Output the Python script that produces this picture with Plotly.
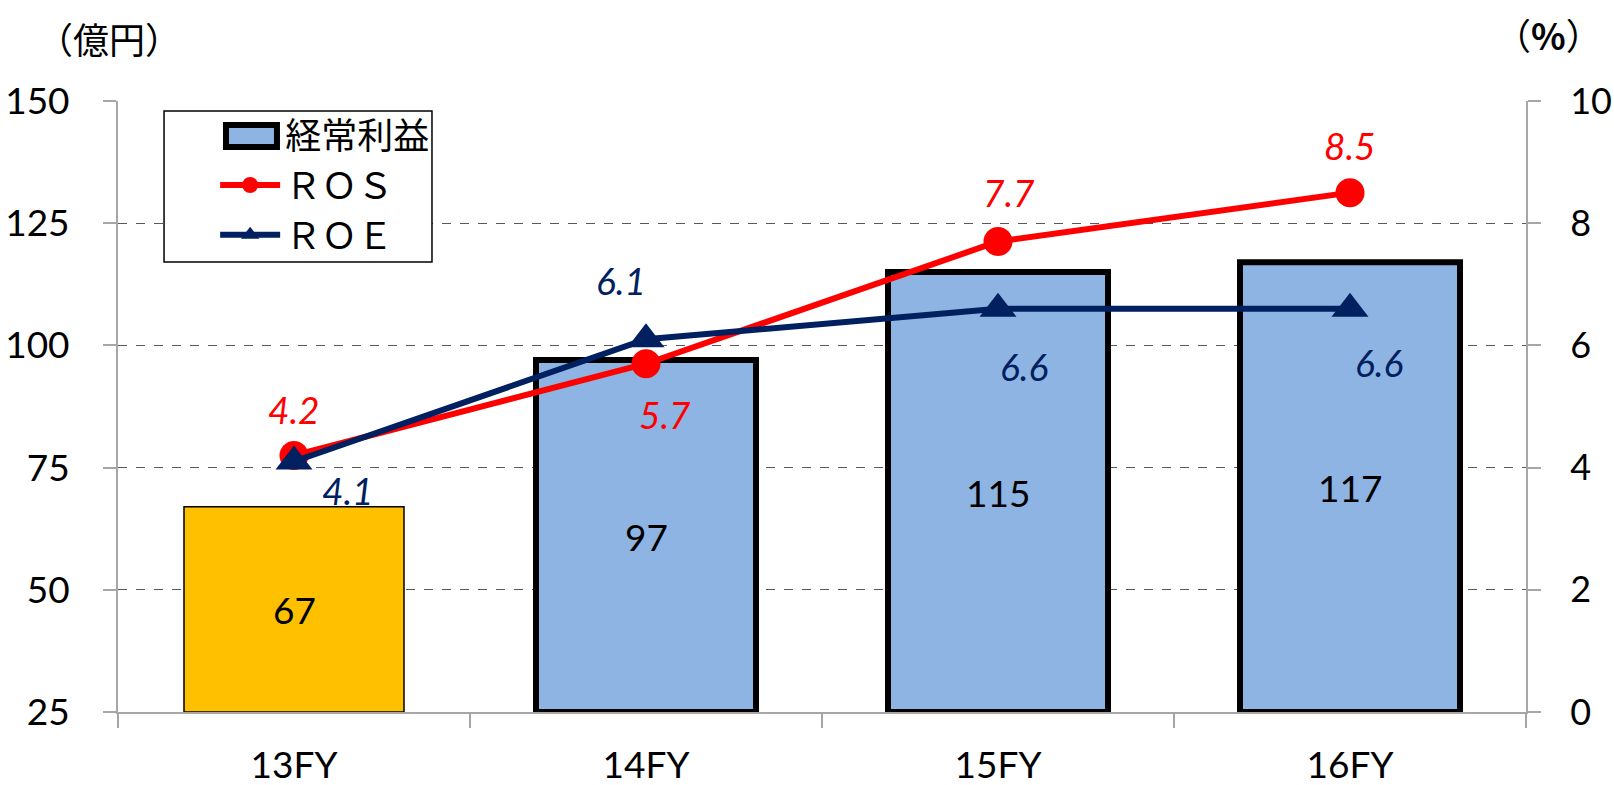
import plotly.graph_objects as go

# ---- data ----
categories = ["13FY", "14FY", "15FY", "16FY"]
profit = [67, 97, 115, 117]          # 経常利益 (億円)
ros = [4.2, 5.7, 7.7, 8.5]           # ROS (%)
roe = [4.1, 6.1, 6.6, 6.6]           # ROE (%)
left_ticks = [25, 50, 75, 100, 125, 150]
right_ticks = [0, 2, 4, 6, 8, 10]

# ---- styles ----
Y_MIN, Y_MAX = 25, 150
Y2_MIN, Y2_MAX = 0, 10
RED = "#FF0000"
NAVY = "#002060"
BLUE = "#8EB4E3"
ORANGE = "#FFC000"
AXIS = "#A6A6A6"
GRID = "#595959"
NUM_FONT = "Lato"
CJK_FONT = "Noto Sans CJK JP"
TICK_SIZE = 37
LABEL_SIZE = 37

# label offsets (px) for the line value labels
ros_off = [(0, -46), (19, 51), (11, -49), (0, -47)]
roe_off = [(54, 29), (-25, -59), (26, 58), (29, 54)]

fig = go.Figure()

# bars: first year in orange with thin outline, others blue with thick outline
fig.add_trace(go.Bar(
    x=categories[:1], y=[v - Y_MIN for v in profit[:1]], base=[Y_MIN],
    marker=dict(color=ORANGE, line=dict(color="#000000", width=1.5)),
    showlegend=False, hoverinfo="skip", yaxis="y",
))
fig.add_trace(go.Bar(
    x=categories[1:], y=[v - Y_MIN for v in profit[1:]], base=[Y_MIN] * 3,
    marker=dict(color=BLUE, line=dict(color="#000000", width=6)),
    name="経常利益", showlegend=False, hoverinfo="skip", yaxis="y",
))
# legend-only entry for the bars (its symbol is enlarged by a frame shape below)
fig.add_trace(go.Bar(
    x=[None], y=[None], name="経常利益",
    marker=dict(color=BLUE, line=dict(color=BLUE, width=0)),
    hoverinfo="skip", yaxis="y",
))

fig.add_trace(go.Scatter(
    x=categories, y=ros, name="ＲＯＳ", mode="lines+markers", yaxis="y2",
    line=dict(color=RED, width=6),
    marker=dict(symbol="circle", size=29, color=RED),
    hoverinfo="skip",
))
fig.add_trace(go.Scatter(
    x=categories, y=roe, name="ＲＯＥ", mode="lines+markers", yaxis="y2",
    line=dict(color=NAVY, width=6),
    marker=dict(symbol="triangle-up", size=32, color=NAVY),
    hoverinfo="skip",
))

annotations = []
# bar value labels, centered in the visible bar
for c, v in zip(categories, profit):
    annotations.append(dict(
        x=c, y=(v + Y_MIN) / 2, xref="x", yref="y", text=str(v),
        showarrow=False, font=dict(family=NUM_FONT, size=LABEL_SIZE, color="#000000"),
    ))
for c, v, (dx, dy) in zip(categories, ros, ros_off):
    annotations.append(dict(
        x=c, y=v, xref="x", yref="y2", text=f"<i>{v:.1f}</i>", showarrow=False,
        xshift=dx, yshift=-dy, font=dict(family=NUM_FONT, size=LABEL_SIZE, color=RED),
    ))
for c, v, (dx, dy) in zip(categories, roe, roe_off):
    annotations.append(dict(
        x=c, y=v, xref="x", yref="y2", text=f"<i>{v:.1f}</i>", showarrow=False,
        xshift=dx, yshift=-dy, font=dict(family=NUM_FONT, size=LABEL_SIZE, color=NAVY),
    ))
# axis unit labels
annotations.append(dict(
    x=-0.0064, y=1.103, xref="paper", yref="paper", text="（億円）",
    showarrow=False, xanchor="center", yanchor="middle",
    font=dict(family=CJK_FONT, size=36, color="#000000"),
))
annotations.append(dict(
    x=1.0163, y=1.11, xref="paper", yref="paper", text="（<b>%</b>）",
    showarrow=False, xanchor="center", yanchor="middle",
    font=dict(family=CJK_FONT, size=36, color="#000000"),
))

# legend frame and enlarged bar-legend swatch
shapes = [
    dict(
        type="rect", xref="paper", yref="paper",
        x0=0.0327, x1=0.223, y0=0.7365, y1=0.9836,
        line=dict(color="#000000", width=1.5), fillcolor="white", layer="above",
    ),
    dict(
        type="rect", xref="paper", yref="paper",
        x0=0.0767, x1=0.1129, y0=0.9247, y1=0.9607,
        line=dict(color="#000000", width=6), fillcolor=BLUE, layer="above",
    ),
]

fig.update_layout(
    width=1614, height=785,
    margin=dict(l=118, r=88, t=101, b=73, autoexpand=False),
    paper_bgcolor="white", plot_bgcolor="white",
    barmode="overlay", bargap=0.375,
    annotations=annotations,
    shapes=shapes,
    hovermode=False,
    legend=dict(
        x=0.069, y=0.993, xanchor="left", yanchor="top",
        borderwidth=0, bgcolor="rgba(0,0,0,0)",
        font=dict(family=CJK_FONT, size=36, color="#000000"),
        itemwidth=60, traceorder="normal",
    ),
    xaxis=dict(
        type="category", categoryorder="array", categoryarray=categories,
        range=[-0.5, 3.5], tickson="boundaries", ticks="outside", ticklen=14,
        tickcolor=AXIS, tickwidth=2, showline=True, linecolor=AXIS, linewidth=2,
        showgrid=False, ticklabelstandoff=20, automargin=False,
        tickfont=dict(family=NUM_FONT, size=TICK_SIZE, color="#000000"),
    ),
    yaxis=dict(
        range=[Y_MIN, Y_MAX], tickvals=left_ticks, ticks="outside", ticklen=13,
        tickcolor=AXIS, tickwidth=2, showline=True, linecolor=AXIS, linewidth=2,
        showgrid=True, gridcolor=GRID, griddash="dash", gridwidth=1,
        zeroline=False, ticklabelstandoff=26, automargin=False,
        tickfont=dict(family=NUM_FONT, size=TICK_SIZE, color="#000000"),
    ),
    yaxis2=dict(
        range=[Y2_MIN, Y2_MAX], tickvals=right_ticks, overlaying="y", side="right",
        ticks="outside", ticklen=13, tickcolor=AXIS, tickwidth=2,
        showline=True, linecolor=AXIS, linewidth=2, showgrid=False,
        zeroline=False, ticklabelstandoff=22, automargin=False,
        tickfont=dict(family=NUM_FONT, size=36, color="#000000"),
    ),
)

fig.write_html(
    "out.html",
    config={"displayModeBar": False},
    post_script="document.body.style.margin='0';document.body.style.overflow='hidden';",
)
